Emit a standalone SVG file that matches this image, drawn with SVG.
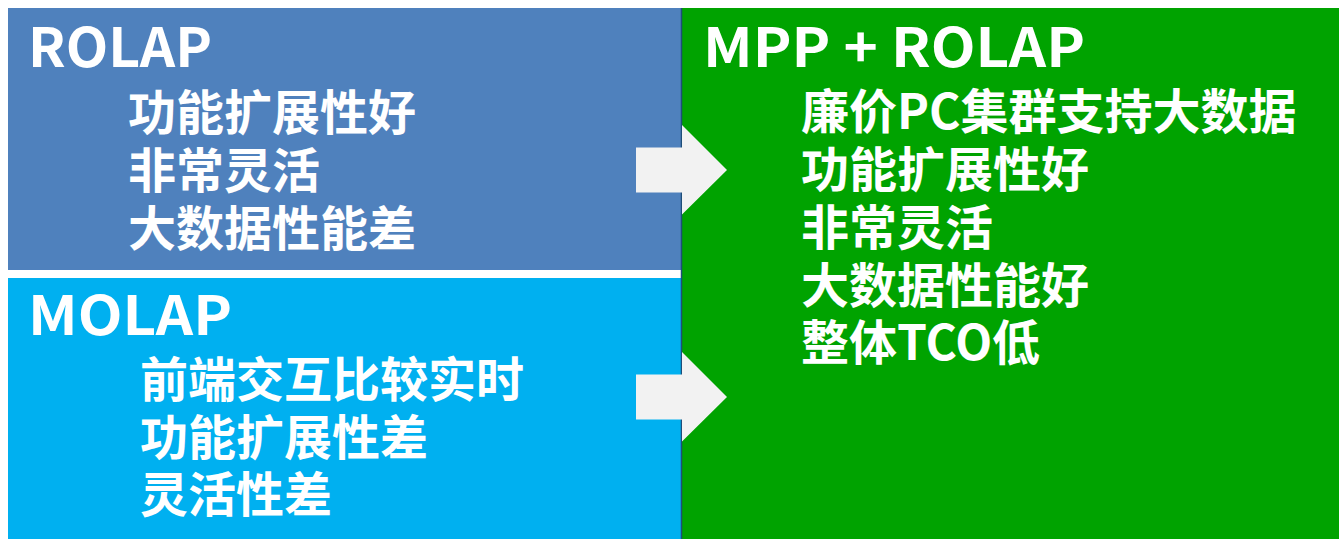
<svg xmlns="http://www.w3.org/2000/svg" width="1339" height="539" viewBox="0 0 1339 539">
<style>
.t{font-family:"Noto Sans CJK SC","Liberation Sans",sans-serif;font-weight:bold;fill:#ffffff;}
.h{font-size:54px;}
.b{font-size:48px;}
.arrow{fill:#f2f2f2;}
</style>
<rect width="1339" height="539" fill="#ffffff"/>
<g id="rolap">
<rect x="8" y="8" width="673.5" height="262" fill="#4f81bd"/>
<text class="t h" x="28" y="67" textLength="184" lengthAdjust="spacingAndGlyphs">ROLAP</text>
<text class="t b"><tspan x="128" y="130">功能扩展性好</tspan><tspan x="128" y="188">非常灵活</tspan><tspan x="128" y="246">大数据性能差</tspan></text>
</g>
<g id="molap">
<rect x="8" y="278" width="673.5" height="261" fill="#00b0f0"/>
<text class="t h" x="28" y="335" textLength="204" lengthAdjust="spacingAndGlyphs">MOLAP</text>
<text class="t b"><tspan x="140" y="397">前端交互比较实时</tspan><tspan x="140" y="455">功能扩展性差</tspan><tspan x="140" y="512">灵活性差</tspan></text>
</g>
<g id="mpp">
<rect x="681.5" y="8" width="657.5" height="531" fill="#00a300"/>
<line x1="681.5" y1="8" x2="681.5" y2="539" stroke="#1f4e79" stroke-width="1.5"/>
<text class="t h" x="703" y="67" textLength="382" lengthAdjust="spacingAndGlyphs">MPP + ROLAP</text>
<text class="t b"><tspan x="801" y="129">廉价PC集群支持大数据</tspan><tspan x="801" y="187">功能扩展性好</tspan><tspan x="801" y="245">非常灵活</tspan><tspan x="801" y="303">大数据性能好</tspan><tspan x="801" y="360">整体TCO低</tspan></text>
</g>
<g id="connectors">
<polygon class="arrow" points="636,147.5 682,147.5 682,125 727,170 682,214.5 682,192.5 636,192.5"/>
<polygon class="arrow" points="636,374.5 682,374.5 682,352 727,397 682,441.5 682,419.5 636,419.5"/>
</g>
</svg>
